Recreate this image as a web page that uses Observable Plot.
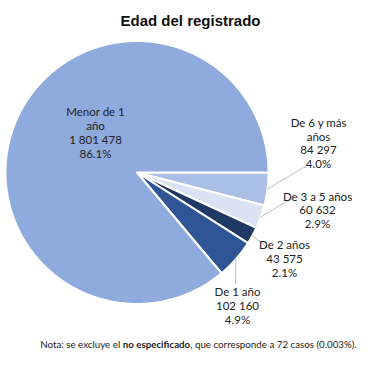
<!DOCTYPE html>
<html>
<head>
<meta charset="utf-8">
<script src="https://cdn.jsdelivr.net/npm/d3@7"></script>
<script src="https://cdn.jsdelivr.net/npm/@observablehq/plot@0.6"></script>
<style>
  html, body { margin: 0; padding: 0; background: #fff; }
  #wrap { position: relative; width: 389px; height: 376px; overflow: hidden; }
  #note { position: absolute; left: 0; width: 397px; top: 338px; text-align: center;
          font-family: Lato, "Open Sans", sans-serif; font-size: 9.75px; color: #222; white-space: nowrap; }
</style>
</head>
<body>
<div id="wrap"><div id="note">Nota: se excluye el <b>no especificado</b>, que corresponde a 72 casos (0.003%).</div></div>
<script>
// ---- data ----
const categories = ["Menor de 1 año", "De 1 año", "De 2 años", "De 3 a 5 años", "De 6 y más años"];
const labelNames = ["Menor de 1\naño", "De 1 año", "De 2 años", "De 3 a 5 años", "De 6 y más\naños"];
const values = [1801478, 102160, 43575, 60632, 84297];
const valueLabels = ["1 801 478", "102 160", "43 575", "60 632", "84 297"];
const percentLabels = ["86.1%", "4.9%", "2.1%", "2.9%", "4.0%"];
const colors = ["#8FAADC", "#2F5597", "#203864", "#DAE3F3", "#A9BFE5"];

// ---- layout config (pixel units, pie centre = origin, y up) ----
const R = 131.5;
const cx = 136.5, cy = 172, W = 389, H = 376;
// label block centres relative to pie centre
const labelPos = [[-41.5, 40], [100.5, -133], [147.5, -86], [180.5, -37.5], [181.5, 29.5]];
// leader line elbows relative to pie centre
const leaderEnds = [null, [[98.5, -111]], [[131.5, -76], [134.5, -76]], [[156.5, -25], [159.5, -25]], [[166.5, 5], [169.5, 5]]];

const drawOrder = [4, 3, 2, 1, 0]; // clockwise from 3 o'clock
const pie = d3.pie().sort(null).value(i => values[i])
  .startAngle(Math.PI / 2).endAngle(Math.PI / 2 + 2 * Math.PI);
const arcs = pie(drawOrder);

const slicePts = [];
const leaders = [];
arcs.forEach(a => {
  const i = a.data;
  slicePts.push({k: i, x: 0, y: 0});
  const n = Math.max(4, Math.ceil((a.endAngle - a.startAngle) / 0.01));
  for (let j = 0; j <= n; j++) {
    const t = a.startAngle + (a.endAngle - a.startAngle) * j / n;
    slicePts.push({k: i, x: R * Math.sin(t), y: R * Math.cos(t)});
  }
  if (leaderEnds[i]) {
    const m = (a.startAngle + a.endAngle) / 2;
    leaders.push({k: i, x: R * Math.sin(m), y: R * Math.cos(m)});
    leaderEnds[i].forEach(p => leaders.push({k: i, x: p[0], y: p[1]}));
  }
});

const labels = categories.map((c, i) => ({
  x: labelPos[i][0], y: labelPos[i][1],
  text: labelNames[i] + "\n" + valueLabels[i] + "\n" + percentLabels[i]
}));

const chart = Plot.plot({
  width: W, height: H,
  margin: 0,
  x: {type: "linear", domain: [-cx, W - cx], range: [0, W], axis: null},
  y: {type: "linear", domain: [cy - H, cy], range: [H, 0], axis: null},
  style: {background: "transparent"},
  marks: [
    Plot.line(slicePts, {x: "x", y: "y", z: "k", curve: "linear-closed",
      fill: d => colors[d.k], stroke: "white", strokeWidth: 2, strokeLinejoin: "round"}),
    Plot.line(leaders, {x: "x", y: "y", z: "k", stroke: "#BFBFBF", strokeWidth: 1}),
    Plot.text(labels, {x: "x", y: "y", text: "text", fontSize: 11.5, lineHeight: 1.2,
      fill: "#222", fontFamily: "Lato, 'Open Sans', sans-serif"}),
    Plot.text(["Edad del registrado"], {frameAnchor: "top", dx: -4.5, dy: 15, text: d => d,
      fontSize: 15, fontWeight: "bold", fill: "#111", fontFamily: "'Liberation Sans', Arial, sans-serif", lineAnchor: "top"})
  ]
});
document.getElementById("wrap").prepend(chart);
</script>
</body>
</html>
